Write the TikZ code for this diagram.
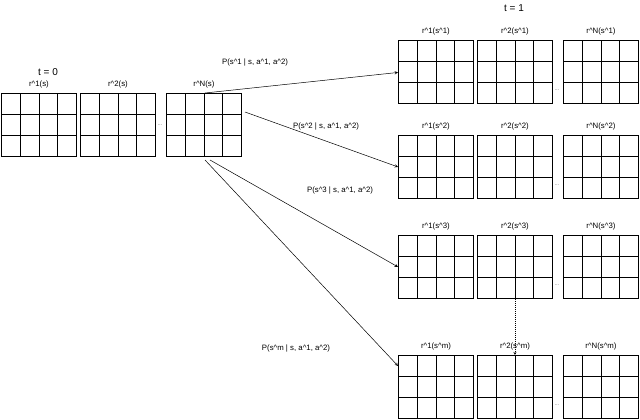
\documentclass[tikz,border=0pt]{standalone}
\usepackage{fontspec}
\setmainfont{Liberation Sans}
\begin{document}
\begin{tikzpicture}[x=1pt,y=-1pt,
  gbox/.style={draw,line width=0.9pt,minimum width=75pt,minimum height=63pt,inner sep=0pt,anchor=north west,
    path picture={
      \foreach \i in {1,2,3} \draw[line width=0.9pt] ([xshift=\i*18.75pt]path picture bounding box.south west) -- ([xshift=\i*18.75pt]path picture bounding box.north west);
      \foreach \j in {1,2} \draw[line width=0.9pt] ([yshift=\j*21pt]path picture bounding box.south west) -- ([yshift=\j*21pt]path picture bounding box.south east);
    }},
  lab/.style={font=\fontsize{7.8}{9}\selectfont},
  dots/.style={font=\fontsize{6}{6}\selectfont,text=gray},
  arr/.style={-stealth,line width=0.5pt}]
\useasboundingbox (0,0) rectangle (640,420);
\node[font=\fontsize{10}{11}\selectfont] (t0) at (48,72) {t = 0};
\node[font=\fontsize{10}{11}\selectfont] (t1) at (514,8) {t = 1};
% left
\node[gbox] (L1) at (1,93) {};
\node[gbox] (L2) at (80,93) {};
\node[gbox] (LN) at (166,93) {};
\node[lab,above=1.5pt] (l1) at (L1.north) {r\string^1(s)};
\node[lab,above=1.5pt] (l2) at (L2.north) {r\string^2(s)};
\node[lab,above=1.5pt] (lN) at (LN.north) {r\string^N(s)};
\node[dots] (d0) at (160,125) {...};
% right groups
\foreach \g/\y/\s in {A/40/s\string^1,B/135/s\string^2,C/235/s\string^3,D/355/s\string^m}{
  \node[gbox] (\g1) at (398,\y) {};
  \node[gbox] (\g2) at (477,\y) {};
  \node[gbox] (\g N) at (563,\y) {};
  \node[lab,above=1.5pt] (\g l1) at (\g1.north) {r\string^1(\s)};
  \node[lab,above=1.5pt] (\g l2) at (\g2.north) {r\string^2(\s)};
  \node[lab,above=1.5pt] (\g lN) at (\g N.north) {r\string^N(\s)};
  \node[dots] (\g d) at (557,\y+50) {...};
}
\coordinate (s1) at (205,93);
\coordinate (s2) at (245,112);
\coordinate (s3) at (210,160);
\coordinate (s4) at (205,160);
\draw[arr] (s1) -- ([yshift=-0.5pt]A1.west);
\draw[arr] (s2) -- (B1.west);
\draw[arr] (s3) -- (C1.west);
\draw[arr] (s4) -- ([yshift=21pt]D1.west);
\node[lab] (p1) at (255,63) {P(s\string^1 | s, a\string^1, a\string^2)};
\node[lab] (p2) at (326,127) {P(s\string^2 | s, a\string^1, a\string^2)};
\node[lab] (p3) at (340,190) {P(s\string^3 | s, a\string^1, a\string^2)};
\node[lab] (p4) at (296,348) {P(s\string^m | s, a\string^1, a\string^2)};
\draw[arr,line width=0.4pt,dash pattern=on 0.8pt off 1.2pt] (C2.south) -- (D2.north);
\end{tikzpicture}
\end{document}
